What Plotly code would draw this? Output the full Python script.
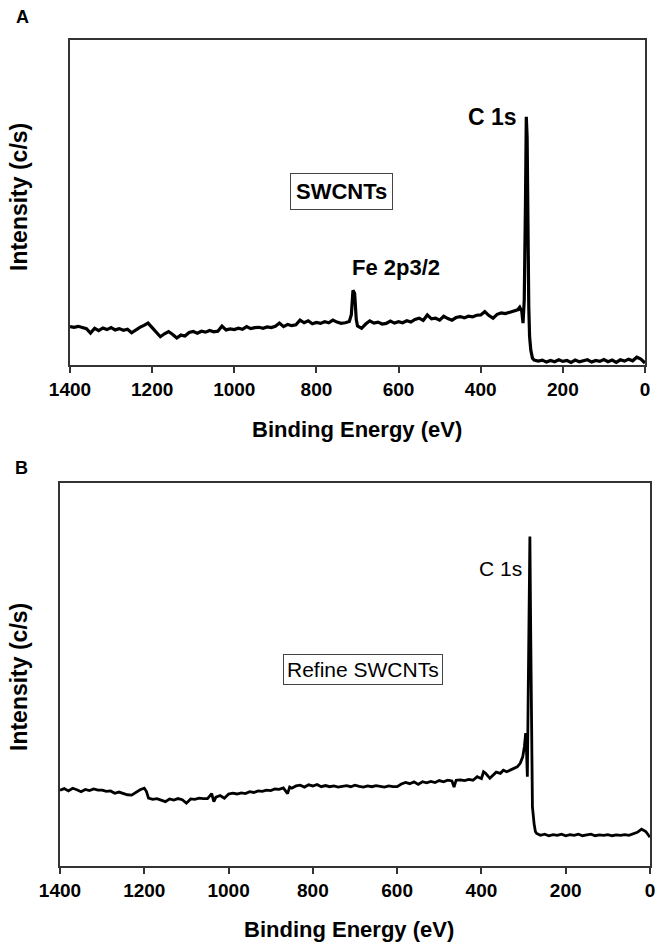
import plotly.graph_objects as go

# ---------------- Panel A: SWCNTs ----------------
energy_a = [1400, 1390, 1380, 1370, 1360, 1350, 1340, 1330, 1320, 1310,
            1300, 1290, 1280, 1270, 1260, 1250, 1240, 1230, 1220, 1210,
            1200, 1190, 1180, 1170, 1160, 1150, 1140, 1130, 1120, 1110,
            1100, 1090, 1080, 1070, 1060, 1050, 1040, 1030, 1020, 1010,
            1000, 990, 980, 970, 960, 950, 940, 930, 920, 910,
            900, 890, 880, 870, 860, 850, 840, 830, 820, 810,
            800, 790, 780, 770, 760, 750, 740, 730, 720,
            715, 711, 707, 703, 700,
            690, 680, 670, 660, 650, 640, 630, 620, 610,
            600, 590, 580, 570, 560, 550, 540, 530, 520, 510,
            500, 490, 480, 470, 460, 450, 440, 430, 420, 410,
            400, 390, 380, 370, 360, 350, 340, 330, 320, 310,
            305, 300, 297, 294, 291, 289, 287, 285, 283, 281, 278, 274,
            270, 260, 250, 240, 230, 220, 210, 200, 190, 180,
            170, 160, 150, 140, 130, 120, 110, 100, 90, 80,
            70, 60, 50, 40, 30, 20, 10, 5, 0]
intensity_a = [11.8, 11.6, 11.9, 11.5, 11.2, 9.8, 11.3, 10.6, 11.4, 10.9,
               11.5, 10.8, 11.2, 10.7, 11.0, 9.9, 10.8, 11.6, 12.2, 12.9,
               11.5, 10.0, 8.7, 9.6, 10.3, 9.4, 8.3, 9.2, 8.9, 10.0,
               10.3, 9.8, 10.4, 10.1, 10.6, 10.2, 10.4, 12.0, 10.8, 11.1,
               10.9, 11.3, 11.0, 11.8, 11.2, 11.5, 11.6, 11.3, 11.7, 11.5,
               11.9, 12.9, 11.8, 12.5, 12.1, 12.4, 13.8, 13.0, 13.6, 12.7,
               13.1, 12.8, 13.3, 13.0, 13.8, 13.2, 12.8, 13.0, 13.4,
               15.5, 23.0, 22.0, 14.0, 12.0,
               11.3, 12.6, 13.6, 12.9, 13.2, 12.6, 12.8, 13.5, 12.9,
               13.3, 13.0, 13.6, 13.2, 14.0, 14.4, 13.7, 15.4, 14.2, 14.4,
               13.8, 15.0, 14.3, 13.8, 14.6, 14.9, 14.5, 15.0, 14.8, 15.3,
               15.4, 16.4, 15.2, 14.4, 15.6, 16.0, 15.8, 16.2, 16.4, 17.0,
               17.8, 16.5, 12.9, 20.0, 50.0, 76.4, 70.0, 30.0, 18.0, 8.7, 4.5, 2.1,
               1.5, 1.2, 1.5, 0.9, 1.4, 1.0, 1.6, 1.1, 1.4, 0.8,
               1.5, 1.0, 1.3, 1.6, 0.9, 1.4, 1.1, 1.7, 1.0, 1.5,
               0.8, 1.6, 1.2, 1.8, 1.3, 2.4, 1.8, 1.0, 0.6]

# ---------------- Panel B: Refine SWCNTs ----------------
energy_b = [1400, 1390, 1380, 1370, 1360, 1350, 1340, 1330, 1320, 1310,
            1300, 1290, 1280, 1270, 1260, 1250, 1240, 1230, 1220, 1210,
            1200, 1195, 1190, 1180, 1170, 1160, 1150, 1140, 1130, 1120, 1110,
            1100, 1090, 1080, 1070, 1060, 1050, 1040, 1035, 1030, 1020, 1010,
            1000, 990, 980, 970, 960, 950, 940, 930, 920, 910,
            900, 890, 880, 870, 860, 855, 850, 840, 830, 820, 810,
            800, 790, 780, 770, 760, 750, 740, 730, 720, 710,
            700, 690, 680, 670, 660, 650, 640, 630, 620, 610,
            600, 590, 580, 570, 560, 550, 540, 530, 520, 510,
            500, 490, 480, 470, 465, 460, 450, 440, 430, 420, 410,
            400, 395, 390, 380, 372, 365, 355, 348, 340, 330, 324, 315, 308,
            302, 298, 295, 293, 291, 289, 287, 285, 283, 281, 279, 275, 272, 269,
            260, 250, 240, 230, 220, 210, 200, 190, 180, 170,
            160, 150, 140, 130, 120, 110, 100, 90, 80, 70,
            60, 50, 40, 30, 20, 10, 0]
intensity_b = [19.8, 20.2, 19.6, 20.3, 19.9, 19.4, 20.0, 19.7, 20.1, 19.8,
               19.8, 19.5, 19.6, 19.0, 19.3, 18.9, 18.6, 18.5, 19.2, 19.9,
               20.3, 19.5, 17.7, 17.4, 17.6, 17.1, 16.8, 17.5, 17.2, 17.6, 17.3,
               16.4, 17.5, 17.4, 17.7, 17.6, 17.6, 18.9, 16.8, 18.0, 18.4, 17.7,
               18.8, 19.0, 18.8, 19.1, 18.9, 19.4, 19.2, 19.6, 19.5, 19.8,
               19.7, 20.1, 20.0, 20.4, 18.9, 20.6, 20.3, 20.9, 21.1, 20.6, 21.2,
               20.9, 21.3, 20.7, 21.0, 20.7, 20.9, 20.6, 20.8, 21.0, 20.7,
               21.1, 20.8, 20.6, 20.9, 20.7, 21.0, 20.8, 20.6, 20.9, 20.7,
               20.7, 21.4, 21.8, 21.5, 22.0, 21.3, 22.0, 21.7, 22.1, 21.8,
               22.3, 22.0, 22.4, 22.2, 20.6, 22.4, 22.5, 22.3, 22.6, 22.4, 23.3,
               22.8, 24.6, 24.2, 22.9, 23.8, 24.5, 24.2, 25.0, 24.6, 25.2, 25.5, 25.9, 26.8,
               28.5, 31.2, 34.7, 30.0, 23.3, 45.0, 75.0, 86.0, 60.0, 30.0, 15.5, 11.0, 9.0, 8.5,
               8.0, 8.3, 7.9, 8.2, 8.0, 8.3, 7.9, 8.2, 8.0, 8.3,
               7.9, 8.1, 8.3, 7.9, 8.1, 8.0, 8.2, 7.9, 8.1, 8.0,
               8.2, 8.0, 8.3, 8.8, 9.6, 9.0, 7.5]

x_ticks = [1400, 1200, 1000, 800, 600, 400, 200, 0]
x_title = "Binding Energy (eV)"
y_title = "Intensity (c/s)"

W, H = 655, 942
FONT = "Liberation Sans, Arial, sans-serif"


def px_x(x):
    return x / W


def px_y(y):
    return 1 - y / H


fig = go.Figure()
fig.add_trace(go.Scatter(x=energy_a, y=intensity_a, mode="lines",
                         line=dict(color="black", width=3.2),
                         xaxis="x", yaxis="y", showlegend=False, hoverinfo="skip"))
fig.add_trace(go.Scatter(x=energy_b, y=intensity_b, mode="lines",
                         line=dict(color="black", width=2.8),
                         xaxis="x2", yaxis="y2", showlegend=False, hoverinfo="skip"))

xaxis_common = dict(range=[1400, 0], tickvals=x_ticks, ticks="outside", ticklen=6,
                    tickwidth=1.5, tickcolor="#333", showline=True, linecolor="#333",
                    linewidth=1.5, mirror=True, showgrid=False, zeroline=False,
                    automargin=False, ticklabeloverflow="allow",
                    tickfont=dict(family=FONT, size=19, color="black", weight="bold"))
yaxis_common = dict(range=[0, 100], showticklabels=False, ticks="", showline=True,
                    linecolor="#333", linewidth=1.5, mirror=True, showgrid=False,
                    zeroline=False, automargin=False)

fig.update_layout(
    width=W, height=H,
    margin=dict(l=0, r=0, t=0, b=0, autoexpand=False),
    paper_bgcolor="white", plot_bgcolor="white",
    xaxis=dict(domain=[px_x(70), px_x(645)], anchor="y", **xaxis_common),
    yaxis=dict(domain=[px_y(365), px_y(40)], anchor="x", **yaxis_common),
    xaxis2=dict(domain=[px_x(60), px_x(650)], anchor="y2", **xaxis_common),
    yaxis2=dict(domain=[px_y(866), px_y(483)], anchor="x2", **yaxis_common),
)

bold = dict(family=FONT, color="black", weight="bold")
reg = dict(family=FONT, color="black")
ann = []
# panel letters
ann.append(dict(text="A", x=px_x(22), y=px_y(17), font=dict(size=18, **bold)))
ann.append(dict(text="B", x=px_x(21), y=px_y(468), font=dict(size=18, **bold)))
# axis titles
ann.append(dict(text=y_title, x=px_x(19), y=px_y(197), textangle=-90, font=dict(size=23, **bold)))
ann.append(dict(text=y_title, x=px_x(19), y=px_y(677), textangle=-90, font=dict(size=23, **bold)))
ann.append(dict(text=x_title, x=px_x(357), y=px_y(429), font=dict(size=22, **bold)))
ann.append(dict(text=x_title, x=px_x(349), y=px_y(929), font=dict(size=22, **bold)))
# peak labels
ann.append(dict(text="C 1s", x=px_x(492), y=px_y(117), font=dict(size=23, **bold)))
ann.append(dict(text="Fe 2p3/2", x=px_x(396), y=px_y(267), font=dict(size=22, **bold)))
ann.append(dict(text="C 1s", x=px_x(500), y=px_y(568), font=dict(size=21, **reg)))
# sample boxes
ann.append(dict(text="SWCNTs", x=px_x(341), y=px_y(192), font=dict(size=22, **bold),
                bordercolor="#444", borderwidth=1, borderpad=5, bgcolor="white"))
ann.append(dict(text="Refine SWCNTs", x=px_x(363), y=px_y(669), font=dict(size=21, **reg),
                bordercolor="#444", borderwidth=1, borderpad=3, bgcolor="white"))

for a in ann:
    a.update(xref="paper", yref="paper", showarrow=False, xanchor="center", yanchor="middle")
fig.update_layout(annotations=ann)

fig.write_html("out.html", config={"displayModeBar": False},
               post_script="document.body.style.margin='0';")
